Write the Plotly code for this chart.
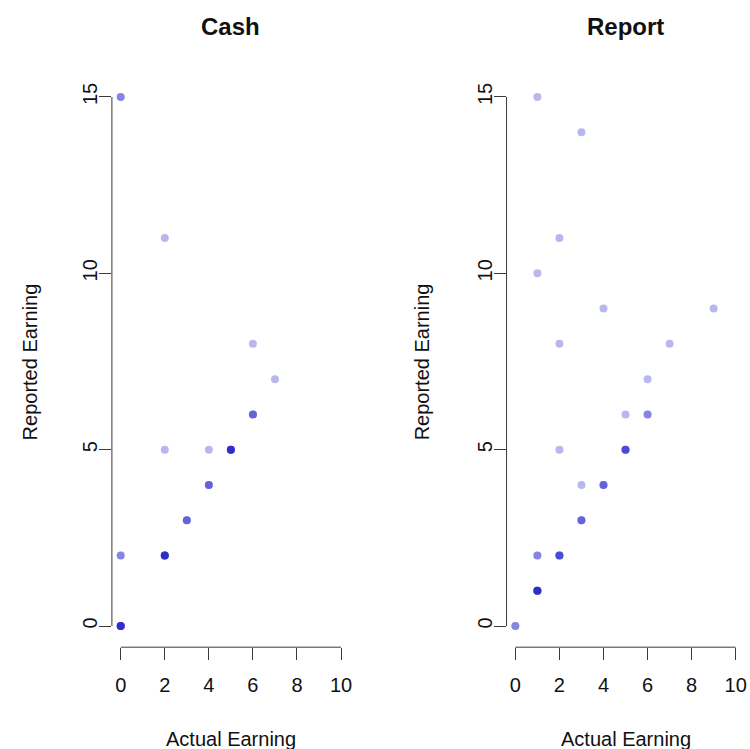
import plotly.graph_objects as go

# Cash panel: (actual, reported) pairs, repeated pairs are real duplicates
cash_actual = [0, 0, 2, 6, 7, 6, 6, 6, 2, 4,
               5, 5, 5, 5, 5, 5, 4, 4, 4, 3, 3, 3,
               0, 0, 2, 2, 2, 2, 2, 2, 0, 0, 0, 0, 0, 0]
cash_reported = [15, 15, 11, 8, 7, 6, 6, 6, 5, 5,
                 5, 5, 5, 5, 5, 5, 4, 4, 4, 3, 3, 3,
                 2, 2, 2, 2, 2, 2, 2, 2, 0, 0, 0, 0, 0, 0]

# Report panel
report_actual = [1, 3, 1, 2, 2, 4, 9, 7, 6, 5, 2, 3,
                 6, 6, 5, 5, 5, 5, 4, 4, 4, 3, 3, 3,
                 1, 1, 2, 2, 2, 2, 1, 1, 1, 1, 1, 1, 0, 0]
report_reported = [15, 14, 10, 11, 8, 9, 9, 8, 7, 6, 5, 4,
                   6, 6, 5, 5, 5, 5, 4, 4, 4, 3, 3, 3,
                   2, 2, 2, 2, 2, 2, 1, 1, 1, 1, 1, 1, 0, 0]

panel_titles = ["Cash", "Report"]
x_title = "Actual Earning"
y_title = "Reported Earning"
x_ticks = [0, 2, 4, 6, 8, 10]
y_ticks = [0, 5, 10, 15]

W, H = 750, 749
FONT = "Liberation Sans, Arial, Helvetica, sans-serif"
POINT = "rgba(20,20,200,0.3)"
AXIS = "#3a3a3a"

# plot regions in pixels (left, right) and (top, bottom)
px_regions = [(112.2, 350.8), (507.9, 746.5)]
py_top, py_bottom = 75.8, 647.2
ydom = [1 - py_bottom / H, 1 - py_top / H]

fig = go.Figure()
panels = [(cash_actual, cash_reported), (report_actual, report_reported)]
for i, (xs, ys) in enumerate(panels):
    sfx = "" if i == 0 else str(i + 1)
    fig.add_trace(go.Scatter(
        x=xs, y=ys, mode="markers",
        marker=dict(size=8, color=POINT, line=dict(width=0)),
        xaxis="x" + sfx, yaxis="y" + sfx, showlegend=False, hoverinfo="skip"))

    l, r = px_regions[i]
    xdom = [l / W, r / W]
    common = dict(showgrid=False, zeroline=False, showline=False,
                  ticks="outside", ticklen=12, tickwidth=1, tickcolor=AXIS,
                  tickfont=dict(family=FONT, size=20, color="#111"))
    fig.layout["xaxis" + sfx] = dict(
        domain=xdom, range=[-0.4, 10.4], anchor="y" + sfx,
        tickvals=x_ticks, ticklabelstandoff=8, **common)
    fig.layout["yaxis" + sfx] = dict(
        domain=ydom, range=[-0.6, 15.6], anchor="x" + sfx,
        tickvals=y_ticks, tickangle=-90, ticklabelstandoff=-6, **common)

    # axis lines spanning only the tick range
    fig.add_shape(type="line", xref="x" + sfx, yref="y" + sfx + " domain",
                  x0=0, x1=10, y0=0, y1=0, line=dict(color=AXIS, width=1))
    fig.add_shape(type="line", xref="x" + sfx + " domain", yref="y" + sfx,
                  x0=0, x1=0, y0=0, y1=15, line=dict(color=AXIS, width=1))

    cx = (l + r) / 2 / W
    ann = dict(xref="paper", yref="paper", showarrow=False,
               xanchor="center", yanchor="middle")
    fig.add_annotation(text="<b>" + panel_titles[i] + "</b>", x=cx, y=1 - 27 / H,
                       font=dict(family=FONT, size=24, color="#111"), **ann)
    fig.add_annotation(text=x_title, x=cx, y=1 - 739 / H,
                       font=dict(family=FONT, size=20, color="#111"), **ann)
    ytx = (30 if i == 0 else 423) / W
    fig.add_annotation(text=y_title, x=ytx, y=1 - 361.5 / H, textangle=-90,
                       font=dict(family=FONT, size=20, color="#111"), **ann)

fig.update_layout(width=W, height=H, margin=dict(l=0, r=0, t=0, b=0),
                  paper_bgcolor="white", plot_bgcolor="white")
fig.write_html("out.html")
